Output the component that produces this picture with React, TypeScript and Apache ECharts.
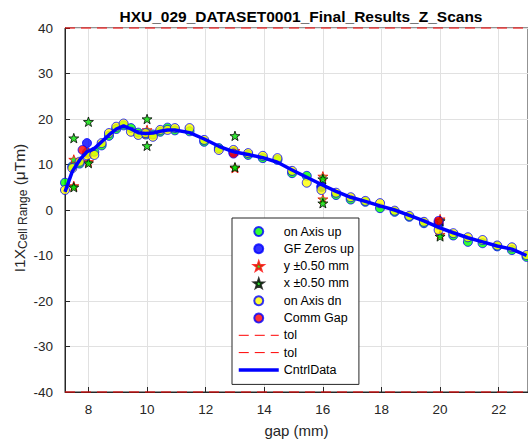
import React, { useEffect, useRef } from "react";
import * as echarts from "echarts";

// Gap positions (mm) of the on-axis scans
const gaps = [
  7.2, 7.45, 7.7, 7.95, 8.2, 8.45, 8.7, 8.95, 9.2, 9.45, 9.7, 9.95, 10.2, 10.45, 10.7, 10.95,
  11.45, 11.95, 12.45, 12.95, 13.45, 13.95, 14.45, 14.95, 15.45, 15.95, 16.45, 16.95, 17.45,
  17.95, 18.45, 18.95, 19.45, 19.95, 20.45, 20.95, 21.45, 21.95, 22.45, 22.95,
];

// I1X (uTm) measured on axis, gap moving up
const onAxisUp = [
  6.0, 9.6, 10.2, 12.6, 12.8, 14.2, 16.3, 17.8, 18.6, 18.0, 17.0, 16.6, 16.6, 17.2, 18.1, 17.5,
  17.3, 15.0, 13.6, 12.8, 12.1, 11.4, 11.0, 8.1, 7.5, 5.0, 3.3, 2.3, 1.8, 0.4, -0.4, -1.5, -2.9,
  -3.3, -5.6, -7.0, -7.3, -8.0, -8.8, -10.3,
];

// I1X (uTm) measured on axis, gap moving down
const onAxisDn = [
  4.4, 9.2, 10.6, 12.0, 12.1, 14.7, 16.9, 18.3, 19.0, 17.2, 16.5, 16.9, 16.1, 17.6, 17.6, 18.0,
  18.0, 15.4, 13.2, 13.2, 12.5, 11.9, 11.4, 8.6, 6.0, 4.4, 3.8, 2.8, 2.0, 1.5, -0.15, -1.3, -2.6,
  -4.4, -5.1, -6.0, -6.6, -7.8, -8.2, -9.9,
];

// Control data curve
const cntrlData = [
  4.0, 8.5, 11.0, 12.8, 13.5, 15.0, 16.5, 17.8, 18.5, 17.8, 17.0, 16.8, 16.9, 17.3, 17.6, 17.6,
  17.0, 15.6, 14.0, 12.8, 12.2, 11.5, 10.5, 8.8, 7.2, 5.6, 4.1, 2.8, 1.9, 0.9, 0.0, -1.2, -2.4,
  -3.8, -5.0, -6.1, -7.0, -7.9, -8.6, -10.0,
];

const gfZeroGaps = [7.95, 12.95, 15.95, 19.95];
const gfZeroVals = [14.7, 12.6, 5.2, -2.8];

const commGapGaps = [7.8, 12.95, 19.95];
const commGapVals = [13.2, 12.4, -2.4];

// Off-axis scans at +/-0.50 mm
const offsetGaps = [7.5, 7.5, 8, 8, 10, 10, 13, 13, 16, 16, 20, 20];
const yOffsetVals = [11.1, 5.3, 12.6, 10.6, 17.6, 16.8, 9.2, 13.0, 7.4, 2.4, -2.0, -5.4];
const xOffsetVals = [15.8, 5.0, 19.4, 10.3, 20.0, 14.1, 16.3, 9.4, 1.5, 6.8, -2.4, -5.8];

const tolUpper = 40;
const tolLower = -40;

const xTicks = [8, 10, 12, 14, 16, 18, 20, 22];
const X_MIN = 7.2;
const X_MAX = 23;

const FONT = "'Liberation Sans', Arial, Helvetica, sans-serif";
const STAR =
  "path://M0,-10L2.35,-3.24L9.51,-3.09L3.8,1.24L5.88,8.09L0,4L-5.88,8.09L-3.8,1.24L-9.51,-3.09L-2.35,-3.24Z";
const CLEAR = "rgba(0,0,0,0)";

const zip = (xs: number[], ys: number[]) => xs.map((x, i) => [x, ys[i]]);

export default function App() {
  const ref = useRef<HTMLDivElement>(null);

  useEffect(() => {
    if (!ref.current) return;
    const chart = echarts.init(ref.current, undefined, { renderer: "svg" });

    const circle = (name: string, fill: string, data: number[][]) => ({
      name,
      type: "scatter",
      data,
      symbol: "circle",
      symbolSize: 9,
      itemStyle: { color: fill, borderColor: "#0000ff", borderWidth: 1 },
      emphasis: { disabled: true },
    });

    const star = (name: string, edge: string, data: number[][]) => ({
      name,
      type: "scatter",
      data,
      symbol: STAR,
      symbolSize: 10,
      symbolKeepAspect: true,
      itemStyle: { color: "#00e000", borderColor: edge, borderWidth: 1 },
      emphasis: { disabled: true },
    });

    // Plain lines: the symbol colour is cleared so legend shows the stroke only
    const tol = (name: string, v: number) => ({
      name,
      type: "line",
      data: [
        [X_MIN, v],
        [X_MAX, v],
      ],
      symbol: "none",
      lineStyle: { color: "#ff0000", width: 1, type: [10, 6] },
      itemStyle: { color: CLEAR, borderWidth: 0 },
      clip: false,
      z: 4,
    });

    chart.setOption({
      animation: false,
      backgroundColor: "#ffffff",
      title: {
        text: "HXU_029_DATASET0001_Final_Results_Z_Scans",
        left: 296,
        top: 3,
        textAlign: "center",
        textStyle: { fontSize: 15.5, fontWeight: "bold", color: "#000000", fontFamily: FONT },
      },
      grid: {
        left: 65,
        top: 28,
        right: 0,
        bottom: 51,
        show: true,
        borderColor: "#262626",
        borderWidth: 1,
        backgroundColor: "transparent",
      },
      xAxis: {
        type: "value",
        min: X_MIN,
        max: X_MAX,
        name: "gap (mm)",
        nameLocation: "middle",
        nameGap: 31,
        nameTextStyle: { fontSize: 15, color: "#262626", fontFamily: FONT },
        axisLine: { onZero: false, lineStyle: { color: "#262626" } },
        axisTick: { inside: true, length: 5, customValues: xTicks, lineStyle: { color: "#262626" } },
        axisLabel: { customValues: xTicks, fontSize: 13.5, color: "#262626", margin: 10, fontFamily: FONT },
        splitLine: { show: true, lineStyle: { color: "#e1e1e1", width: 1 } },
      },
      yAxis: {
        type: "value",
        min: -40,
        max: 40,
        interval: 10,
        axisLine: { show: true, onZero: false, lineStyle: { color: "#262626" } },
        axisTick: { show: true, inside: true, length: 5, lineStyle: { color: "#262626" } },
        axisLabel: { fontSize: 13.5, color: "#262626", margin: 12, fontFamily: FONT },
        splitLine: { show: true, lineStyle: { color: "#e1e1e1", width: 1 } },
      },
      legend: {
        orient: "vertical",
        left: 232,
        top: 218,
        itemWidth: 40,
        itemHeight: 9,
        itemGap: 4.3,
        padding: [7, 5, 8, 5],
        backgroundColor: "#ffffff",
        borderColor: "#262626",
        borderWidth: 1,
        borderRadius: 0,
        lineStyle: { width: "inherit" },
        textStyle: { fontSize: 12.5, color: "#000000", fontFamily: FONT },
        data: [
          "on Axis up",
          "GF Zeros up",
          "y \u00b10.50 mm",
          "x \u00b10.50 mm",
          "on Axis dn",
          "Comm Gap",
          "tol",
          "tol ",
          "CntrlData",
        ],
      },
      graphic: [
        {
          type: "text",
          x: 19,
          y: 208,
          rotation: Math.PI / 2,
          style: {
            text: "{a|I1X}{s|Cell Range}{a| (}{a|\u03bcTm)}",
            align: "center",
            verticalAlign: "middle",
            fill: "#262626",
            rich: {
              a: { fontSize: 15.5, fontFamily: FONT, fill: "#262626", lineHeight: 20 },
              s: { fontSize: 12, fontFamily: FONT, fill: "#262626", lineHeight: 12, padding: [8, 0, 0, 0] },
            },
          },
        },
      ],
      series: [
        circle("on Axis up", "#00ff00", zip(gaps, onAxisUp)),
        circle("GF Zeros up", "#0000ff", zip(gfZeroGaps, gfZeroVals)),
        star("y \u00b10.50 mm", "#ff0000", zip(offsetGaps, yOffsetVals)),
        star("x \u00b10.50 mm", "#000000", zip(offsetGaps, xOffsetVals)),
        circle("on Axis dn", "#ffff00", zip(gaps, onAxisDn)),
        circle("Comm Gap", "#ff0000", zip(commGapGaps, commGapVals)),
        tol("tol", tolUpper),
        tol("tol ", tolLower),
        {
          name: "CntrlData",
          type: "line",
          data: zip(gaps, cntrlData),
          symbol: "none",
          lineStyle: { color: "#0000ff", width: 3.5 },
          itemStyle: { color: CLEAR, borderWidth: 0 },
          z: 5,
        },
      ],
    });

    return () => chart.dispose();
  }, []);

  return (
    <div
      ref={ref}
      style={{ position: "fixed", left: 0, top: 0, width: 528, height: 443, background: "#fff" }}
    />
  );
}
